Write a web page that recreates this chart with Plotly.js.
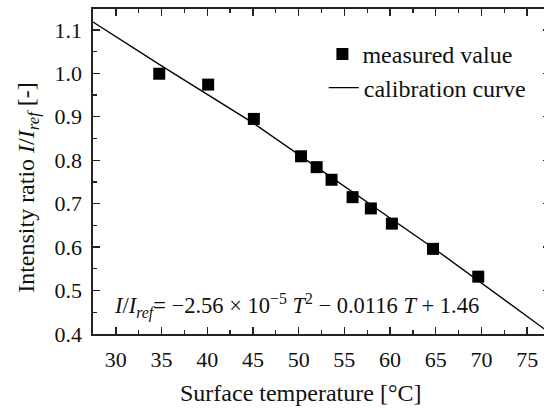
<!DOCTYPE html>
<html>
<head>
<meta charset="utf-8">
<script src="https://cdn.plot.ly/plotly-3.0.1.min.js"></script>
<style>
  html, body { margin: 0; padding: 0; overflow: hidden; background: #fff; }
  #chart { width: 550px; height: 408px; }
</style>
</head>
<body>
<div id="chart"></div>
<script>
const T_measured = [34.75, 40.1, 45.1, 50.26, 51.97, 53.6, 55.9, 57.9, 60.2, 64.7, 69.65];
const ratio_measured = [0.999, 0.974, 0.895, 0.809, 0.784, 0.755, 0.715, 0.689, 0.654, 0.596, 0.532];

// Calibration curve
const T_curve = [27.5, 35, 45, 55, 65, 77.5];
const ratio_curve = [1.118, 1.017, 0.886, 0.740, 0.594, 0.402];

// Axis ticks
const xTicks = [30, 35, 40, 45, 50, 55, 60, 65, 70, 75];
const yTicks = [0.4, 0.5, 0.6, 0.7, 0.8, 0.9, 1.0, 1.1];

const FONT = 'Liberation Serif, DejaVu Serif, serif';

const traces = [
  {
    x: T_measured, y: ratio_measured,
    type: 'scatter', mode: 'markers',
    name: 'measured value',
    legend: 'legend',
    marker: { symbol: 'square', size: 12, color: '#000' }
  },
  {
    x: T_curve, y: ratio_curve,
    type: 'scatter', mode: 'lines',
    name: 'calibration curve',
    legend: 'legend2',
    line: { color: '#000', width: 1.4 }
  }
];

const axisCommon = {
  showgrid: false, zeroline: false,
  showline: true, linecolor: '#222', linewidth: 1.6,
  mirror: 'ticks',
  ticks: 'inside', ticklen: 7, tickwidth: 1.4, tickcolor: '#222',
  tickfont: { family: FONT, size: 22, color: '#111' }
};

const legendCommon = {
  xanchor: 'left', yanchor: 'middle',
  bgcolor: 'rgba(0,0,0,0)', borderwidth: 0,
  font: { family: FONT, size: 24, color: '#111' }
};

const layout = {
  width: 550, height: 408,
  margin: { l: 93, r: 0, t: 9, b: 74 },
  paper_bgcolor: '#fff', plot_bgcolor: '#fff',
  showlegend: true,
  legend: Object.assign({}, legendCommon, { x: 0.502, y: 0.860 }),
  legend2: Object.assign({}, legendCommon, { x: 0.505, y: 0.757 }),
  xaxis: Object.assign({}, axisCommon, {
    range: [27.5, 77.5],
    tickmode: 'array', tickvals: xTicks, ticktext: xTicks.map(String),
    minor: { dtick: 2.5, tick0: 27.5, ticks: 'inside', ticklen: 4, tickwidth: 1.3, tickcolor: '#222' },
    ticklabelstandoff: 5
  }),
  yaxis: Object.assign({}, axisCommon, {
    range: [0.4, 1.148],
    tickmode: 'array', tickvals: yTicks, ticktext: yTicks.map(v => v.toFixed(1)),
    minor: { dtick: 0.05, tick0: 0.4, ticks: 'inside', ticklen: 4, tickwidth: 1.3, tickcolor: '#222' },
    ticklabelstandoff: 5
  }),
  annotations: [
    {
      xref: 'paper', yref: 'paper', x: 0.453, y: -0.18,
      xanchor: 'center', yanchor: 'middle', showarrow: false,
      text: 'Surface temperature [°C]',
      font: { family: FONT, size: 24, color: '#111' }
    },
    {
      xref: 'paper', yref: 'paper', x: -0.142, y: 0.45,
      xanchor: 'center', yanchor: 'middle', showarrow: false, textangle: -90,
      text: 'Intensity ratio <i>I</i>/<i>I</i><sub><i>ref</i></sub> [-]',
      font: { family: FONT, size: 24, color: '#111' }
    },
    {
      xref: 'paper', yref: 'paper', x: 0.041, y: 0.085,
      xanchor: 'left', yanchor: 'middle', showarrow: false,
      text: '<i>I</i>/<i>I</i><sub><i>ref</i></sub>= −2.56 × 10<sup>−5</sup> <i>T</i><sup>2</sup> − 0.0116 <i>T</i> + 1.46',
      font: { family: FONT, size: 22.5, color: '#111' }
    }
  ]
};

Plotly.newPlot('chart', traces, layout, { displayModeBar: false, staticPlot: true });
</script>
</body>
</html>
